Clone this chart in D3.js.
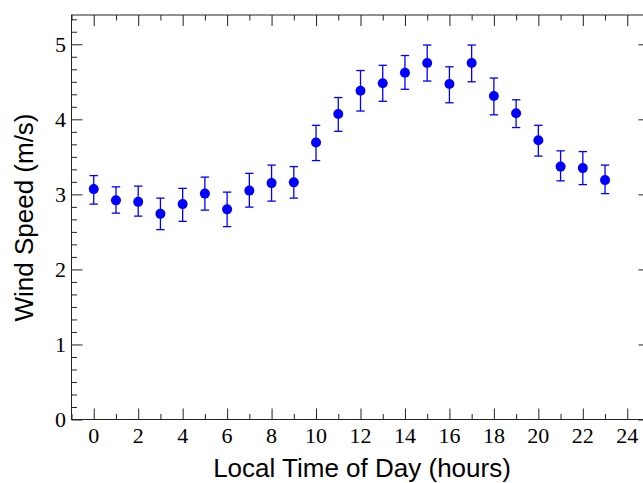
<!DOCTYPE html>
<html>
<head>
<meta charset="utf-8">
<script src="https://cdn.jsdelivr.net/npm/d3@7"></script>
<style>
  body { margin: 0; background: #fff; }
  svg { display: block; }
</style>
</head>
<body>
<div id="chart"></div>
<script>
// hourly mean wind speed with error bars
var hours = [0,1,2,3,4,5,6,7,8,9,10,11,12,13,14,15,16,17,18,19,20,21,22,23];
var speed = [3.07,2.92,2.90,2.74,2.87,3.01,2.80,3.05,3.15,3.16,3.69,4.07,4.38,4.48,4.62,4.75,4.47,4.75,4.31,4.08,3.72,3.37,3.35,3.19];
var errHi = [3.25,3.10,3.11,2.95,3.08,3.23,3.03,3.28,3.39,3.37,3.92,4.29,4.65,4.72,4.85,4.99,4.70,4.99,4.55,4.26,3.92,3.58,3.57,3.39];
var errLo = [2.87,2.75,2.71,2.53,2.64,2.79,2.57,2.83,2.91,2.95,3.45,3.84,4.11,4.24,4.40,4.51,4.22,4.50,4.06,3.89,3.51,3.18,3.13,3.01];
var xTickLabels = [0,2,4,6,8,10,12,14,16,18,20,22,24];
var yTickLabels = [0,1,2,3,4,5];

var data = hours.map(function(h, i){
  return {h: h, v: speed[i], hi: errHi[i], lo: errLo[i]};
});

var W = 643, H = 483;
var pLeft = 71.5, pRight = 649.5, pTop = 15, pBottom = 419.5;

var svg = d3.select("#chart").append("svg")
  .attr("width", W).attr("height", H);

var x = d3.scaleLinear().domain([-1, 25]).range([pLeft, pRight]);
var y = d3.scaleLinear().domain([0, 5.39]).range([pBottom, pTop]);

// minor ticks: odd hours on x, sixths on y
var xMinor = d3.range(-1, 26).filter(function(v){ return v % 2 != 0; });
var yMinor = d3.range(0, 33).map(function(k){ return k / 6; })
  .filter(function(v){ return Math.abs(v - Math.round(v)) > 1e-6 && v <= 5.39; });

var tickFont = "'Liberation Serif', 'DejaVu Serif', serif";
var titleFont = "'Liberation Sans', Arial, sans-serif";

// bottom axis (ticks pointing in)
var xb = svg.append("g").attr("transform", "translate(0," + pBottom + ")");
xb.call(d3.axisTop(x).tickValues(xTickLabels).tickSize(11).tickFormat(""));
xb.append("g").call(d3.axisTop(x).tickValues(xMinor).tickSize(5.5).tickFormat(""));
xb.selectAll(".domain").remove();
xb.append("g").attr("fill", "#000").selectAll("text").data(xTickLabels).join("text")
  .attr("x", function(d){ return x(d); })
  .attr("y", 23.5)
  .attr("text-anchor", "middle")
  .style("font-family", tickFont).style("font-size", "22px")
  .text(function(d){ return d; });

// top axis
var xt = svg.append("g").attr("transform", "translate(0," + pTop + ")");
xt.call(d3.axisBottom(x).tickValues(xTickLabels).tickSize(11).tickFormat(""));
xt.append("g").call(d3.axisBottom(x).tickValues(xMinor).tickSize(5.5).tickFormat(""));
xt.selectAll(".domain").remove();

// left axis
var yl = svg.append("g").attr("transform", "translate(" + pLeft + ",0)");
yl.call(d3.axisRight(y).tickValues(yTickLabels).tickSize(11).tickFormat(""));
yl.append("g").call(d3.axisRight(y).tickValues(yMinor).tickSize(5.5).tickFormat(""));
yl.selectAll(".domain").remove();
yl.append("g").attr("fill", "#000").selectAll("text").data(yTickLabels).join("text")
  .attr("x", -5.5)
  .attr("y", function(d){ return y(d); })
  .attr("dy", "0.34em")
  .attr("text-anchor", "end")
  .style("font-family", tickFont).style("font-size", "22px")
  .text(function(d){ return d; });

// right axis
var yr = svg.append("g").attr("transform", "translate(" + pRight + ",0)");
yr.call(d3.axisLeft(y).tickValues(yTickLabels).tickSize(11).tickFormat(""));
yr.append("g").call(d3.axisLeft(y).tickValues(yMinor).tickSize(5.5).tickFormat(""));
yr.selectAll(".domain").remove();

svg.selectAll(".tick line").attr("stroke", "#222").attr("stroke-width", 1);

// frame
svg.append("rect")
  .attr("x", pLeft).attr("y", pTop)
  .attr("width", pRight - pLeft).attr("height", pBottom - pTop)
  .attr("fill", "none").attr("stroke", "#222").attr("stroke-width", 1);

// error bars
var eb = svg.append("g").attr("stroke", "#0000ff").attr("stroke-width", 1.3);
eb.selectAll("line.v").data(data).join("line").attr("class", "v")
  .attr("x1", function(d){ return x(d.h); }).attr("x2", function(d){ return x(d.h); })
  .attr("y1", function(d){ return y(d.hi); }).attr("y2", function(d){ return y(d.lo); });
eb.selectAll("line.t").data(data).join("line").attr("class", "t")
  .attr("x1", function(d){ return x(d.h) - 4.2; }).attr("x2", function(d){ return x(d.h) + 4.2; })
  .attr("y1", function(d){ return y(d.hi); }).attr("y2", function(d){ return y(d.hi); });
eb.selectAll("line.b").data(data).join("line").attr("class", "b")
  .attr("x1", function(d){ return x(d.h) - 4.2; }).attr("x2", function(d){ return x(d.h) + 4.2; })
  .attr("y1", function(d){ return y(d.lo); }).attr("y2", function(d){ return y(d.lo); });

// points
svg.append("g").selectAll("circle").data(data).join("circle")
  .attr("cx", function(d){ return x(d.h); })
  .attr("cy", function(d){ return y(d.v); })
  .attr("r", 5)
  .attr("fill", "#0000ff");

// axis titles
svg.append("text")
  .attr("x", 362).attr("y", 477)
  .attr("text-anchor", "middle")
  .style("font-family", titleFont).style("font-size", "26px")
  .text("Local Time of Day (hours)");

svg.append("text")
  .attr("transform", "translate(33," + 217.5 + ") rotate(-90)")
  .attr("text-anchor", "middle")
  .style("font-family", titleFont).style("font-size", "26px")
  .text("Wind Speed (m/s)");
</script>
</body>
</html>
